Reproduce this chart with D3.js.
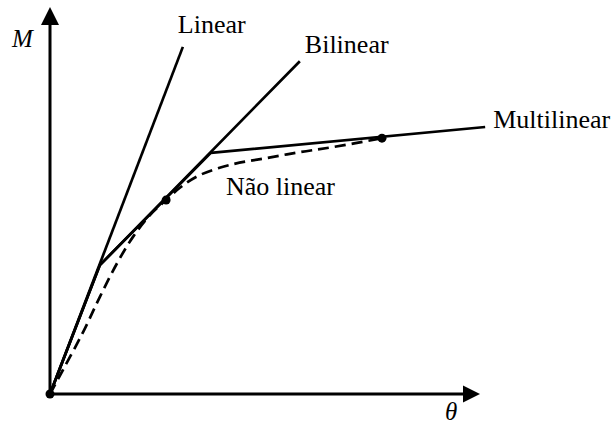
<!DOCTYPE html>
<html lang="pt">
<head>
    <meta charset="UTF-8">
    <title>Modelos M-θ</title>
    <script src="https://d3js.org/d3.v7.min.js"></script>
    <style>
        body { margin: 0; background: #fff; }
        text { font-family: "Liberation Serif", "Times New Roman", serif; fill: #000; }
    </style>
</head>
<body>
    <div id="chart"></div>
    <script>
        // curves, in (theta, M) units
        var linear = [[0, 0], [3.09, 8.97]];
        var bilinear = [[0, 0], [1.16, 3.33], [5.81, 8.60]];
        var multilinear = [[0, 0], [1.16, 3.33], [3.74, 6.23], [10.12, 6.90]];
        var naoLinear = [[0, 0], [0.30, 0.62], [0.77, 1.60], [1.16, 2.51], [1.56, 3.38],
            [1.93, 4.06], [2.33, 4.63], [2.70, 5.01], [3.02, 5.33], [3.49, 5.66],
            [4.26, 5.94], [5.05, 6.10], [5.81, 6.25], [6.58, 6.38], [7.72, 6.61]];
        var points = [[0, 0], [2.70, 5.01], [7.72, 6.61]];
        var labels = ["Linear", "Bilinear", "Multilinear", "Não linear"];

        var width = 615, height = 426;

        var x = d3.scaleLinear().domain([0, 10]).range([50, 480]);
        var y = d3.scaleLinear().domain([0, 10]).range([394, 7]);

        var svg = d3.select("#chart").append("svg")
            .attr("width", width)
            .attr("height", height);

        var line = d3.line()
            .x(function(d) { return x(d[0]); })
            .y(function(d) { return y(d[1]); });

        // axes with arrow heads
        svg.append("line")
            .attr("x1", x(0)).attr("y1", y(0))
            .attr("x2", x(0)).attr("y2", y(10) + 16)
            .attr("stroke", "#000").attr("stroke-width", 3);
        svg.append("line")
            .attr("x1", x(0)).attr("y1", y(0))
            .attr("x2", x(10) - 16).attr("y2", y(0))
            .attr("stroke", "#000").attr("stroke-width", 3);

        svg.append("path")
            .attr("d", "M" + x(0) + "," + y(10) + "l-9,18l18,0z")
            .attr("fill", "#000");
        svg.append("path")
            .attr("d", "M" + x(10) + "," + y(0) + "l-17,-8.5l0,17z")
            .attr("fill", "#000");

        // model curves
        [linear, bilinear, multilinear].forEach(function(s) {
            svg.append("path")
                .datum(s)
                .attr("d", line)
                .attr("fill", "none")
                .attr("stroke", "#000")
                .attr("stroke-width", 2.7)
                .attr("stroke-linejoin", "round");
        });

        svg.append("path")
            .datum(naoLinear)
            .attr("d", line.curve(d3.curveCatmullRom))
            .attr("fill", "none")
            .attr("stroke", "#000")
            .attr("stroke-width", 2.7)
            .attr("stroke-dasharray", "11,6");

        svg.selectAll("circle")
            .data(points)
            .enter().append("circle")
            .attr("cx", function(d) { return x(d[0]); })
            .attr("cy", function(d) { return y(d[1]); })
            .attr("r", 4.5)
            .attr("fill", "#000");

        // labels
        var lin = linear[linear.length - 1],
            bil = bilinear[bilinear.length - 1],
            mul = multilinear[multilinear.length - 1];

        svg.append("text")
            .attr("x", x(lin[0]) - 5).attr("y", y(lin[1]) - 14)
            .attr("font-size", 26)
            .text(labels[0]);
        svg.append("text")
            .attr("x", x(bil[0]) + 5).attr("y", y(bil[1]) - 8)
            .attr("font-size", 26)
            .text(labels[1]);
        svg.append("text")
            .attr("x", x(mul[0]) + 8).attr("y", y(mul[1]) + 1)
            .attr("font-size", 26)
            .text(labels[2]);
        svg.append("text")
            .attr("x", 226).attr("y", 195)
            .attr("font-size", 26)
            .text(labels[3]);

        svg.append("text")
            .attr("x", 12).attr("y", 47)
            .attr("font-size", 25)
            .attr("font-style", "italic")
            .text("M");
        svg.append("text")
            .attr("x", 445).attr("y", 420)
            .attr("font-size", 25)
            .attr("font-style", "italic")
            .text("θ");
    </script>
</body>
</html>
